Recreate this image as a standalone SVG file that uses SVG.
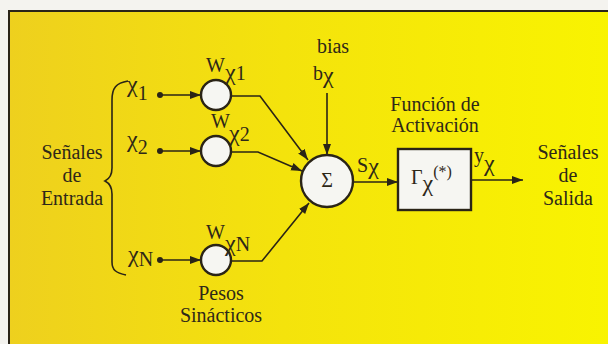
<svg xmlns="http://www.w3.org/2000/svg" width="608" height="344" viewBox="0 0 608 344">
<defs>
<linearGradient id="bg" x1="0" y1="0" x2="1" y2="0">
<stop offset="0" stop-color="#eed01e"/>
<stop offset="0.45" stop-color="#f4e30c"/>
<stop offset="1" stop-color="#f9f400"/>
</linearGradient>
<marker id="ah" markerUnits="userSpaceOnUse" markerWidth="12" markerHeight="10" refX="11" refY="4" orient="auto">
<path d="M0,0 L11,4 L0,8 Z" fill="#2a2416"/>
</marker>
<style>
text{font-family:"Liberation Serif","Times New Roman",serif;fill:#2e2818;font-size:20px}
.c{text-anchor:middle}
.chi{font-size:24px}
.ln{fill:none;stroke:#2a2416;stroke-width:1.6}
.node{fill:#f6f6f2;stroke:#2a2416;stroke-width:2.4}
.dot{fill:#2a2416}
</style>
</defs>
<rect width="608" height="344" fill="#f4f3ef"/>
<rect x="9" y="11" width="610" height="345" fill="url(#bg)" stroke="#2a2418" stroke-width="2"/>

<g id="entrada-label">
<text class="c" x="72" y="159">Señales</text>
<text class="c" x="72" y="182">de</text>
<text class="c" x="72" y="205">Entrada</text>
<path class="ln" stroke-width="2" d="M128,81 C116,83 112,88 112,100 L112,168 C112,175 109,179 105,181 C109,183 112,187 112,194 L112,262 C112,270 116,273 126,275"/>
</g>

<g id="connectors">
<line class="ln" x1="160" y1="95" x2="201" y2="95" marker-end="url(#ah)"/>
<line class="ln" x1="160" y1="151" x2="201" y2="151" marker-end="url(#ah)"/>
<line class="ln" x1="160" y1="260" x2="201" y2="260" marker-end="url(#ah)"/>
<polyline class="ln" points="231,96 260,96 308,160" marker-end="url(#ah)"/>
<polyline class="ln" points="231,152 258,152 302,171" marker-end="url(#ah)"/>
<polyline class="ln" points="231,261 262,261 309,203" marker-end="url(#ah)"/>
<line class="ln" x1="327" y1="93" x2="327" y2="155" marker-end="url(#ah)"/>
<line class="ln" x1="353" y1="182" x2="398" y2="182" marker-end="url(#ah)"/>
<line class="ln" x1="471" y1="180" x2="523" y2="180" marker-end="url(#ah)"/>
</g>

<g id="x1">
<text x="127" y="92"><tspan class="chi">χ</tspan><tspan dy="8">1</tspan></text>
<circle class="dot" cx="160" cy="95" r="3"/>
<circle class="node" cx="216" cy="95" r="15"/>
<text x="206" y="72">W</text><text x="225" y="80"><tspan class="chi">χ</tspan><tspan>1</tspan></text>
</g>

<g id="x2">
<text x="127" y="147"><tspan class="chi">χ</tspan><tspan dy="7">2</tspan></text>
<circle class="dot" cx="160" cy="151" r="3"/>
<circle class="node" cx="216" cy="151" r="15"/>
<text x="211" y="128">W</text><text x="229" y="141"><tspan class="chi">χ</tspan><tspan>2</tspan></text>
</g>

<g id="xN">
<text x="128" y="262"><tspan class="chi">χ</tspan><tspan dy="4">N</tspan></text>
<circle class="dot" cx="160" cy="260" r="3"/>
<circle class="node" cx="216" cy="260" r="15"/>
<text x="206" y="239">W</text><text x="225" y="251"><tspan class="chi">χ</tspan><tspan>N</tspan></text>
</g>

<g id="pesos-label">
<text class="c" x="221" y="300">Pesos</text>
<text class="c" x="221" y="322">Sinácticos</text>
</g>

<g id="bias">
<text class="c" x="333" y="53">bias</text>
<text x="313" y="80">b<tspan class="chi" dy="3">χ</tspan></text>
</g>

<g id="sum">
<circle class="node" cx="327" cy="181" r="26"/>
<text class="c" x="327" y="187" font-size="16">Σ</text>
<text x="357" y="172">S<tspan class="chi" dy="2">χ</tspan></text>
</g>

<g id="activacion">
<text class="c" x="435" y="111">Función de</text>
<text class="c" x="435" y="132">Activación</text>
<rect class="node" x="398" y="149" width="73" height="61"/>
<text x="411" y="184">Γ<tspan class="chi" dy="7">χ</tspan><tspan dy="-14" font-size="16">(*)</tspan></text>
</g>

<g id="salida">
<text x="474" y="162">y<tspan class="chi" dy="9">χ</tspan></text>
<text class="c" x="568" y="159">Señales</text>
<text class="c" x="568" y="182">de</text>
<text class="c" x="568" y="205">Salida</text>
</g>
</svg>
